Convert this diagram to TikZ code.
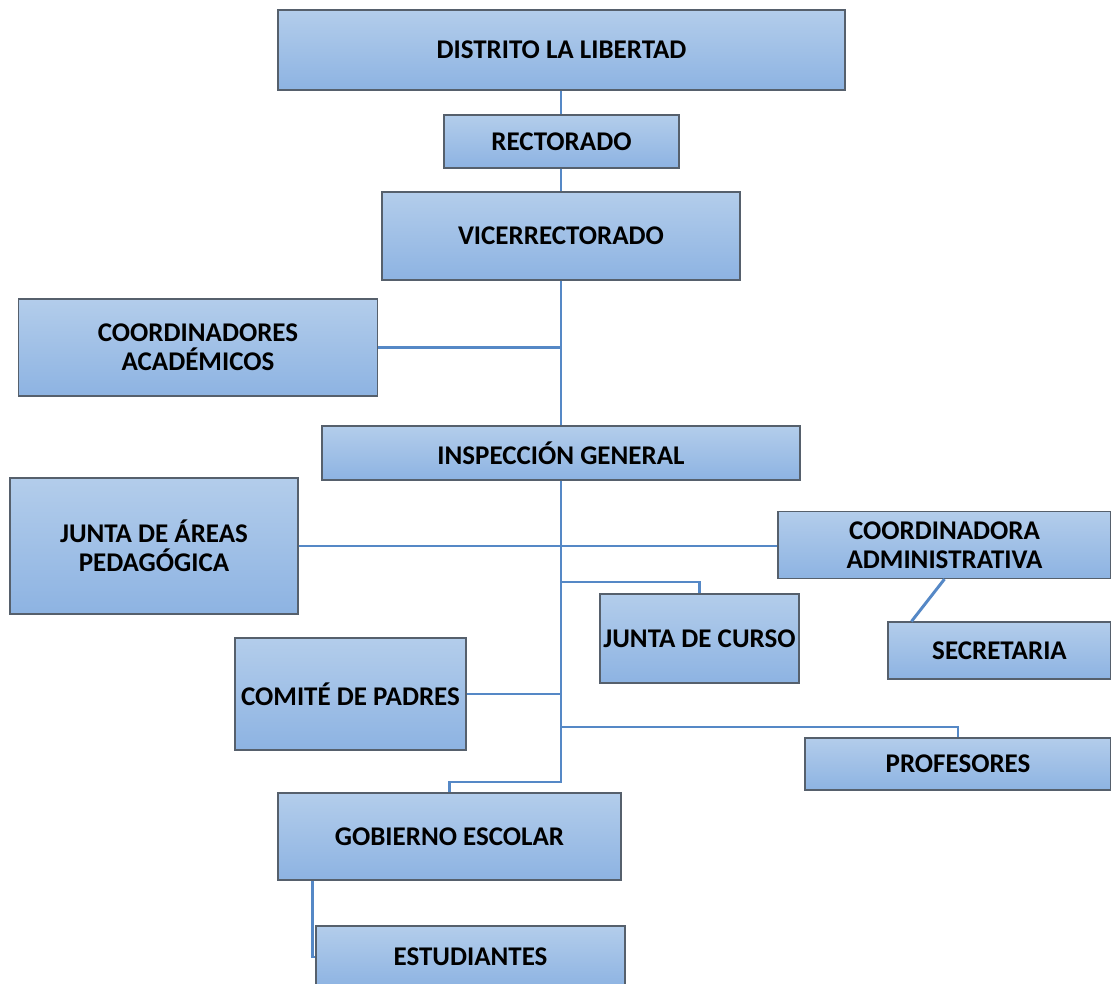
\documentclass[tikz,border=0pt]{standalone}
\usepackage{fontspec}
\setmainfont{Carlito}
\usepackage{tikz}
\definecolor{lineaazul}{HTML}{5588C6}
\definecolor{cajaarriba}{HTML}{B3CDEB}
\definecolor{cajaabajo}{HTML}{8DB3E2}
\definecolor{cajaborde}{HTML}{56606C}
\tikzstyle{caja} = [draw=cajaborde, line width=0.8pt, top color=cajaarriba, bottom color=cajaabajo, inner sep=0pt, align=center, font=\fontsize{19.2}{20.5}\selectfont\bfseries]
\tikzstyle{linea} = [draw=lineaazul, line width=2.1pt]
\tikzset{tam/.style 2 args={minimum width=#1*0.025cm, minimum height=#2*0.025cm}}

\begin{document}
\begin{tikzpicture}[x=0.025cm, y=-0.025cm]
	\useasboundingbox (0,0) rectangle (1111,984);
	\node[caja, tam={567}{80}] (distrito) at (561.5,50) {DISTRITO LA LIBERTAD};
	\node[caja, tam={235}{53}] (rectorado) at (561.5,141.5) {RECTORADO};
	\node[caja, tam={358}{88}] (vice) at (561,236) {VICERRECTORADO};
	\node[caja, tam={359}{97}] (coordacad) at (198,347.5) {COORDINADORES\\ACADÉMICOS};
	\node[caja, tam={478}{54}] (insp) at (561,453) {INSPECCIÓN GENERAL};
	\node[caja, tam={288}{136}] (juntaareas) at (154,546) {JUNTA DE ÁREAS\\PEDAGÓGICA};
	\node[caja, tam={333}{67}] (coordadmin) at (944.5,545) {COORDINADORA\\ADMINISTRATIVA};
	\node[caja, tam={199}{89}] (juntacurso) at (699.5,638.5) {JUNTA DE CURSO};
	\node[caja, tam={223}{57}] (secretaria) at (999.5,650.5) {SECRETARIA};
	\node[caja, tam={231}{112}] (comite) at (350.5,694) {COMITÉ DE PADRES};
	\node[caja, tam={306}{52}] (profesores) at (958,764) {PROFESORES};
	\node[caja, tam={343}{87}] (gobierno) at (449.5,836.5) {GOBIERNO ESCOLAR};
	\node[caja, tam={309}{62}] (estudiantes) at (470.5,957) {ESTUDIANTES};

	\coordinate (ramacurso) at (561,582);
	\coordinate (ramaprof) at (561,727);
	\coordinate (tronco) at (561,782);
	\draw[linea] (distrito.south -| vice.north) -- (rectorado.north -| vice.north);
	\draw[linea] (rectorado.south -| vice.north) -- (vice.north);
	\draw[linea] (vice.south) -- (insp.north);
	\draw[linea] (coordacad.east) -- (coordacad.east -| vice.south);
	\draw[linea] (insp.south) -- (tronco) -| (gobierno.north);
	\draw[linea] (juntaareas.east) -- (coordadmin.west |- juntaareas.east);
	\draw[linea] (ramacurso) -| (juntacurso.north);
	\draw[linea] (comite.east) -- (comite.east -| insp.south);
	\draw[linea] (ramaprof) -| (profesores.north);
	\draw[linea] (coordadmin.south) -- ([xshift=0.6cm]secretaria.north west);
	\draw[linea] ([xshift=0.875cm]gobierno.south west) |- (estudiantes.west);
\end{tikzpicture}
\end{document}
